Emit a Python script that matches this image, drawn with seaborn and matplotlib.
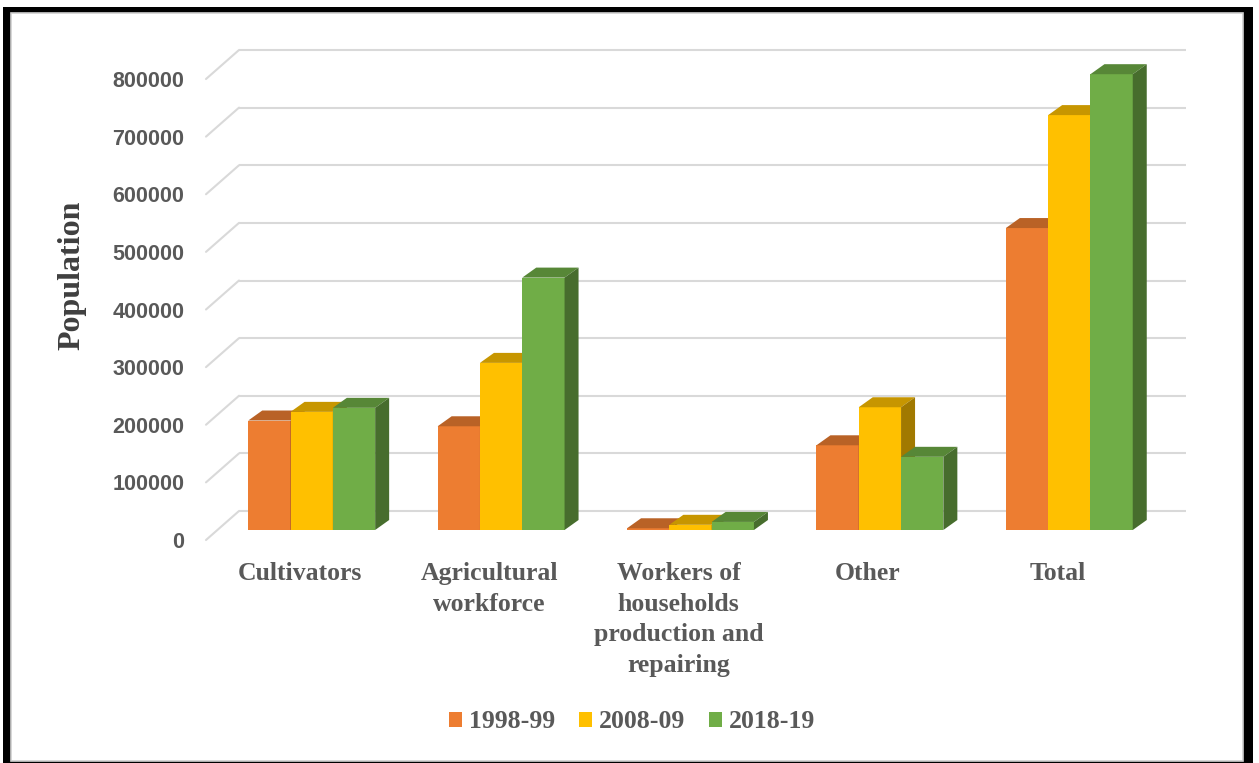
import matplotlib
matplotlib.use("Agg")
import matplotlib.pyplot as plt
from matplotlib.patches import Polygon, Rectangle, Patch
from matplotlib.transforms import ScaledTranslation
import numpy as np
import pandas as pd
import seaborn as sns

# ---- data ----
categories = ["Cultivators", "Agricultural\nworkforce",
              "Workers of\nhouseholds\nproduction and\nrepairing", "Other", "Total"]
years = ["1998-99", "2008-09", "2018-19"]
v_1998 = [190000, 180000, 3000, 147000, 524000]
v_2008 = [205000, 290000, 9000, 213000, 720000]
v_2018 = [212000, 438000, 14000, 127000, 791000]
y_ticks = [0, 100000, 200000, 300000, 400000, 500000, 600000, 700000, 800000]
colors = ["#ED7D31", "#FFC000", "#70AD47"]

df = pd.DataFrame({
    "category": categories * 3,
    "year": sum([[y] * len(categories) for y in years], []),
    "value": v_1998 + v_2008 + v_2018,
})

sns.set_style("white")
plt.rcParams["font.family"] = ["Liberation Sans", "DejaVu Sans"]

W, H = 1259, 763
fig = plt.figure(figsize=(W / 100, H / 100), dpi=100)

# frame
fig.patches.append(Rectangle((3 / W, 0), 1250 / W, (H - 7) / H, transform=fig.transFigure,
                             facecolor="black", edgecolor="none", zorder=-10))
fig.patches.append(Rectangle((11 / W, 2 / H), 1232 / W, (H - 15) / H, transform=fig.transFigure,
                             facecolor="white", edgecolor="#d0d0d0", linewidth=1.2, zorder=-9))

ax_l, ax_r, ax_b, ax_t = 217, 1164, 530, 40
ax = fig.add_axes([ax_l / W, (H - ax_b) / H, (ax_r - ax_l) / W, (ax_b - ax_t) / H])
ax.set_facecolor("none")
ymax = (ax_b - ax_t) / (461 / 800000)

sns.barplot(data=df, x="category", y="value", hue="year", palette=colors, width=0.67,
            saturation=1, ax=ax, legend=False, linewidth=0, edgecolor="none")
ax.set_xlim(-0.5, 4.5)
ax.set_ylim(0, ymax)
ax.set_xlabel("")
ax.set_ylabel("")
for s in ax.spines.values():
    s.set_visible(False)
ax.grid(False)

pxx = (ax_r - ax_l) / 5.0          # pixels per x unit
pxy = (ax_b - ax_t) / ymax         # pixels per y unit
def dxd(px):
    return px / pxx
def dyd(px):
    return px / pxy

# back-wall gridlines (3D look)
for v in y_ticks:
    ax.plot([-0.5 + dxd(22), 4.5 + dxd(22)], [v + dyd(19), v + dyd(19)],
            color="#d9d9d9", lw=1.5, zorder=0, clip_on=False, solid_capstyle="butt")
    ax.plot([-0.5 - dxd(11), -0.5 + dxd(22)], [v - dyd(10), v + dyd(19)],
            color="#d9d9d9", lw=1.5, zorder=0, clip_on=False)

# 3D faces for the bars
def shade(c, f):
    r, g, b = matplotlib.colors.to_rgb(c)
    return (r * f, g * f, b * f)

bars = sorted(list(ax.patches), key=lambda p: p.get_x())
ddx, ddy = dxd(14), dyd(10)
for i, p in enumerate(bars):
    x0, w, h = p.get_x(), p.get_width(), p.get_height()
    fc = p.get_facecolor()
    z = 2 + i
    p.set_zorder(z)
    top = Polygon([(x0, h), (x0 + w, h), (x0 + w + ddx, h + ddy), (x0 + ddx, h + ddy)],
                  closed=True, facecolor=shade(fc, 0.78), edgecolor="none", zorder=z)
    side = Polygon([(x0 + w, 0), (x0 + w + ddx, ddy), (x0 + w + ddx, h + ddy), (x0 + w, h)],
                   closed=True, facecolor=shade(fc, 0.63), edgecolor="none", zorder=z)
    ax.add_patch(top)
    ax.add_patch(side)

# ticks
ax.set_yticks(y_ticks)
ax.set_yticklabels([str(v) for v in y_ticks])
ax.tick_params(axis="y", length=0, pad=23.5, labelsize=15.5, labelcolor="#595959")
for lab in ax.get_yticklabels():
    lab.set_fontweight("bold")
    lab.set_transform(lab.get_transform() + ScaledTranslation(0, -0.10, fig.dpi_scale_trans))

ax.tick_params(axis="x", length=0, pad=23, labelcolor="#595959")
for lab in ax.get_xticklabels():
    lab.set_fontfamily(["Liberation Serif", "DejaVu Serif"])
    lab.set_fontweight("bold")
    lab.set_fontsize(18.5)
    lab.set_linespacing(1.42)
    lab.set_transform(lab.get_transform() + ScaledTranslation(-0.12, 0, fig.dpi_scale_trans))

fig.text(72 / W, 1 - 275 / H, "Population", rotation=90, ha="center", va="center",
         fontsize=23, fontweight="bold", color="#3f3f3f",
         family=["Liberation Serif", "DejaVu Serif"])

handles = [Patch(facecolor=c, edgecolor="none", label=y) for c, y in zip(colors, years)]
fig.legend(handles=handles, loc="center", bbox_to_anchor=(632 / W, 1 - 722 / H), ncol=3,
           frameon=False, handlelength=0.5, handleheight=0.5, handletextpad=0.25,
           columnspacing=0.95,
           prop={"family": ["Liberation Serif", "DejaVu Serif"], "weight": "bold", "size": 18.5},
           labelcolor="#595959")

fig.savefig("out.png", dpi=100)
